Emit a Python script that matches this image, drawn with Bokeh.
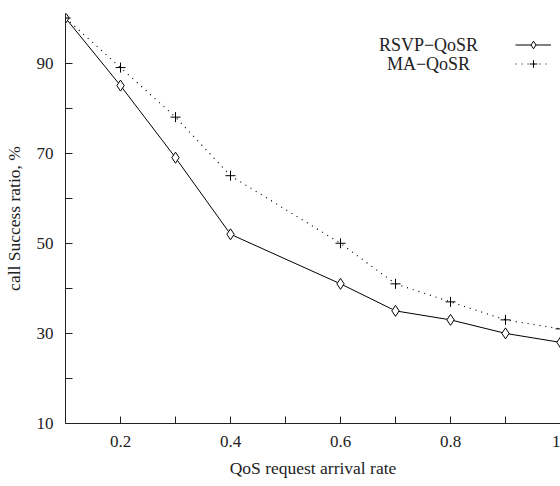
from bokeh.plotting import figure
from bokeh.models import Range1d, FixedTicker, Legend, LegendItem, Label
from bokeh.embed import file_html
from bokeh.resources import INLINE

# data
x_rate = [0.1, 0.2, 0.3, 0.4, 0.6, 0.7, 0.8, 0.9, 1.0]
rsvp_qosr = [100, 85, 69, 52, 41, 35, 33, 30, 28]
ma_qosr = [100, 89, 78, 65, 50, 41, 37, 33, 31]
series_names = ["RSVP\u2212QoSR", "MA\u2212QoSR"]
x_ticks = [0.1, 0.2, 0.3, 0.4, 0.5, 0.6, 0.7, 0.8, 0.9, 1.0]
x_tick_labels = {0.1: "", 0.2: "0.2", 0.3: "", 0.4: "0.4", 0.5: "", 0.6: "0.6",
                 0.7: "", 0.8: "0.8", 0.9: "", 1.0: "1"}
y_ticks = [10, 20, 30, 40, 50, 60, 70, 80, 90]
y_tick_labels = {10: "10", 20: "", 30: "30", 40: "", 50: "50", 60: "", 70: "70", 80: "", 90: "90"}

FONT = "Liberation Serif"

p = figure(width=560, height=486, output_backend="svg", toolbar_location=None,
           x_range=Range1d(0.1, 1.0), y_range=Range1d(10, 101),
           min_border_left=62, min_border_right=0, min_border_top=13, min_border_bottom=63)
p.outline_line_color = None
p.grid.visible = False
p.background_fill_color = "white"

for ax in (p.xaxis[0], p.yaxis[0]):
    ax.axis_line_color = "#222222"
    ax.axis_line_width = 1
    ax.major_tick_in = 7
    ax.major_tick_out = 0
    ax.minor_tick_in = 0
    ax.minor_tick_out = 0
    ax.major_tick_line_color = "#222222"
    ax.major_label_text_font = FONT
    ax.major_label_text_font_size = "17px"
    ax.major_label_text_color = "#222222"
    ax.axis_label_text_font = FONT
    ax.axis_label_text_font_size = "17.5px"
    ax.axis_label_text_font_style = "normal"
    ax.axis_label_text_color = "#222222"

p.xaxis.ticker = FixedTicker(ticks=x_ticks)
p.xaxis.major_label_overrides = x_tick_labels
p.yaxis.ticker = FixedTicker(ticks=y_ticks)
p.yaxis.major_label_overrides = y_tick_labels
p.xaxis.axis_label = "QoS request arrival rate"
p.yaxis.axis_label = "call Success ratio, %"
p.xaxis.major_label_standoff = 12
p.yaxis.major_label_standoff = 12
p.xaxis.axis_label_standoff = 8
p.yaxis.axis_label_standoff = 10

l1 = p.line(x_rate, rsvp_qosr, line_color="black", line_width=1)
s1 = p.scatter(x_rate, rsvp_qosr, marker="diamond", size=11, line_color="black",
               fill_color="white", line_width=1)
l2 = p.line(x_rate, ma_qosr, line_color="black", line_width=1.2, line_dash="1 5")
s2 = p.scatter(x_rate, ma_qosr, marker="cross", size=10, line_color="black", line_width=1)

legend = Legend(items=[LegendItem(label=" ", renderers=[l1, s1]),
                       LegendItem(label=" ", renderers=[l2, s2])],
                location=(450, 350), padding=0, margin=0, spacing=0,
                glyph_height=19, glyph_width=36, label_width=0, label_standoff=0,
                label_text_font_size="1px", border_line_alpha=0, background_fill_alpha=0)
p.add_layout(legend, "center")

for name, yy in zip(series_names, [93.9, 89.7]):
    p.add_layout(Label(x=0.76, y=yy, text=name, text_font=FONT, text_font_size="18px",
                       text_align="center", text_baseline="middle", text_color="#222222"))

open("out.html", "w").write(file_html(p, INLINE))
